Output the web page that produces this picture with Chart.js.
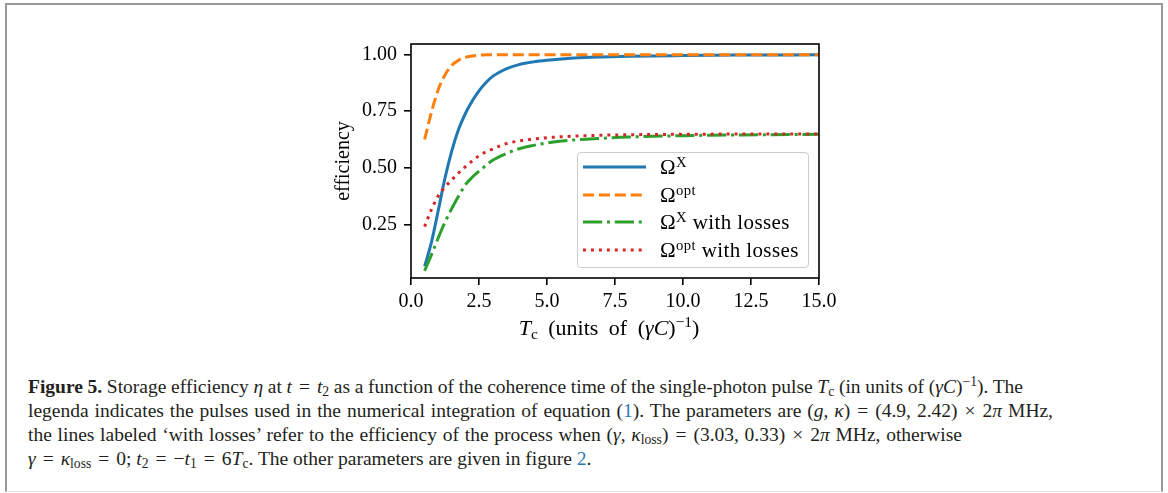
<!DOCTYPE html>
<html>
<head>
<meta charset="utf-8">
<script src="https://cdn.jsdelivr.net/npm/chart.js@4.4.1/dist/chart.umd.min.js"></script>
<style>
    body { margin: 0; width: 1168px; height: 493px; background: #fff; position: relative; overflow: hidden; font-family: "Liberation Serif", serif; color: #000; }
    #frame { position: absolute; left: 5px; top: 3px; width: 1154px; height: 486px; border: 2px solid #999; border-bottom: 1px solid #e4e4e4; }
    #chartBox { position: absolute; left: 330px; top: 30px; width: 540px; height: 320px; }
    #legend { position: absolute; left: 577px; top: 152px; width: 230px; height: 114px; border: 1px solid #ccc; border-radius: 4px; background: rgba(255,255,255,0.8); font-size: 21px; letter-spacing: 0.4px; }
    #legend .row { position: absolute; left: 0; height: 26px; line-height: 26px; white-space: nowrap; }
    #legend svg { position: absolute; left: 5px; top: 8px; }
    #legend .lbl { position: absolute; left: 82px; top: 0; }
    sup { font-size: 0.7em; vertical-align: 0.5em; line-height: 0; }
    sub { font-size: 0.7em; vertical-align: -0.25em; line-height: 0; }
    #xtitle { position: absolute; left: 409px; width: 400px; top: 315px; text-align: center; font-size: 22px; word-spacing: 5px; white-space: nowrap; }
    #caption { position: absolute; left: 28px; top: 375px; font-size: 19.5px; line-height: 24px; color: #231f20; }
    #caption div { white-space: nowrap; width: max-content; }
    #caption a { color: #2a7ab8; text-decoration: none; }
    #caption .op { display: inline-block; margin: 0 7px; }
</style>
</head>
<body>
<div id="frame"></div>
<div id="chartBox"><canvas id="effChart" width="540" height="320"></canvas></div>
<div id="legend"></div>
<div id="xtitle"><i>T</i><sub>c</sub> (units of (<i>γC</i>)<sup>−1</sup>)</div>
<div id="caption">
    <div><b>Figure 5.</b> Storage efficiency <i>η</i> at <i>t</i><span class="op">=</span><i>t</i><sub>2</sub> as a function of the coherence time of the single-photon pulse <i>T</i><sub>c</sub> (in units of (<i>γC</i>)<sup>−1</sup>). The</div>
    <div>legenda indicates the pulses used in the numerical integration of equation (<a>1</a>). The parameters are (<i>g</i>, <i>κ</i>)<span class="op">=</span>(4.9, 2.42)<span class="op">×</span>2<i>π</i> MHz,</div>
    <div>the lines labeled ‘with losses’ refer to the efficiency of the process when (<i>γ</i>, <i>κ</i><sub>loss</sub>)<span class="op">=</span>(3.03, 0.33)<span class="op">×</span>2<i>π</i> MHz, otherwise</div>
    <div><i>γ</i><span class="op">=</span><i>κ</i><sub>loss</sub><span class="op">=</span>0; <i>t</i><sub>2</sub><span class="op">=</span>−<i>t</i><sub>1</sub><span class="op">=</span>6<i>T</i><sub>c</sub>. The other parameters are given in figure <a>2</a>.</div>
</div>
<script>
// coherence time Tc (units of (gamma C)^-1)
const Tc = [0.5, 0.75, 1.0, 1.25, 1.5, 1.75, 2.0, 2.25, 2.5, 2.75, 3.0, 3.25, 3.5, 4.0, 4.5, 5.0, 6.0, 7.0, 8.0, 10.0, 12.0, 15.0];

// efficiency
const omegaX       = [0.065, 0.17, 0.31, 0.455, 0.575, 0.67, 0.74, 0.795, 0.84, 0.876, 0.904, 0.922, 0.937, 0.957, 0.968, 0.975, 0.985, 0.99, 0.993, 0.996, 0.998, 0.999];
const omegaOpt     = [0.625, 0.745, 0.845, 0.91, 0.953, 0.975, 0.988, 0.994, 0.998, 0.999, 1.0, 1.0, 1.0, 1.0, 1.0, 1.0, 1.0, 1.0, 1.0, 1.0, 1.0, 1.0];
const omegaXLoss   = [0.045, 0.115, 0.19, 0.26, 0.32, 0.375, 0.425, 0.458, 0.485, 0.51, 0.533, 0.549, 0.563, 0.585, 0.599, 0.61, 0.623, 0.63, 0.636, 0.642, 0.645, 0.648];
const omegaOptLoss = [0.24, 0.315, 0.375, 0.415, 0.447, 0.477, 0.505, 0.53, 0.553, 0.57, 0.583, 0.596, 0.607, 0.619, 0.627, 0.633, 0.64, 0.644, 0.646, 0.648, 0.649, 0.649];

const xTicks = [0, 2.5, 5, 7.5, 10, 12.5, 15];
const yTicks = [0.25, 0.5, 0.75, 1.0];

// legend text: [base, superscript, rest]
const legendParts = [
    ["Ω", "X", ""],
    ["Ω", "opt", ""],
    ["Ω", "X", " with losses"],
    ["Ω", "opt", " with losses"]
];

const colors = ["#1f77b4", "#ff7f0e", "#2ca02c", "#d62728"];
const dashes = [[], [11.1, 4.8], [19.2, 4.8, 3, 4.8], [3, 4.95]];
const series = [omegaX, omegaOpt, omegaXLoss, omegaOptLoss];

const font = { family: "'Liberation Serif', serif", size: 20 };

// box around the plot area, drawn over the lines like matplotlib spines
const spines = {
    id: "spines",
    afterDatasetsDraw(chart) {
        const { ctx, chartArea: a } = chart;
        ctx.save();
        ctx.strokeStyle = "#000";
        ctx.lineWidth = 1.6;
        ctx.strokeRect(a.left, a.top, a.right - a.left, a.bottom - a.top);
        ctx.restore();
    }
};

const chart = new Chart(document.getElementById("effChart"), {
    type: "line",
    data: {
        datasets: series.map((s, i) => ({
            label: legendParts[i].join(""),
            data: Tc.map((x, j) => ({ x: x, y: s[j] })),
            borderColor: colors[i],
            borderWidth: 3,
            borderDash: dashes[i],
            pointRadius: 0,
            fill: false,
            cubicInterpolationMode: "monotone",
            order: 4 - i
        }))
    },
    options: {
        responsive: false,
        animation: false,
        devicePixelRatio: 1,
        layout: { padding: { top: 14, right: 51, left: 0, bottom: 0 } },
        plugins: { legend: { display: false }, tooltip: { enabled: false } },
        scales: {
            x: {
                type: "linear",
                min: 0,
                max: 15,
                afterBuildTicks: s => { s.ticks = xTicks.map(v => ({ value: v })); },
                afterFit: s => { s.height = 72; s.paddingLeft = 0; s.paddingRight = 0; },
                ticks: { font: font, color: "#000", padding: 5, maxRotation: 0, callback: v => v.toFixed(1) },
                grid: { drawOnChartArea: false, drawTicks: true, tickLength: 7, color: "#000", lineWidth: 1.6 },
                border: { display: false }
            },
            y: {
                min: 0.013,
                max: 1.047,
                afterBuildTicks: s => { s.ticks = yTicks.map(v => ({ value: v })); },
                afterFit: s => { s.width = 81; s.paddingTop = 0; s.paddingBottom = 0; },
                ticks: { font: font, color: "#000", padding: 7, callback: v => v.toFixed(2) },
                grid: { drawOnChartArea: false, drawTicks: true, tickLength: 7, color: "#000", lineWidth: 1.6 },
                border: { display: false },
                title: { display: true, text: "efficiency", font: font, color: "#000", padding: { top: 2, bottom: 0 } }
            }
        }
    },
    plugins: [spines]
});

// legend with superscripts, built from the datasets
const legend = document.getElementById("legend");
chart.data.datasets.forEach((ds, i) => {
    const row = document.createElement("div");
    row.className = "row";
    row.style.top = (1 + i * 27.5) + "px";
    const p = legendParts[i];
    row.innerHTML =
        '<svg width="64" height="10"><line x1="0" y1="5" x2="63" y2="5" stroke="' + ds.borderColor +
        '" stroke-width="3" stroke-dasharray="' + (ds.borderDash.length ? ds.borderDash.join(",") : "none") + '"/></svg>' +
        '<span class="lbl">' + p[0] + '<sup>' + p[1] + '</sup>' + p[2] + '</span>';
    legend.appendChild(row);
});

// stretch the full caption lines to the widths they have in the journal layout
const captionEnds = [1023, 1053, 962];
document.querySelectorAll("#caption div").forEach((d, i) => {
    if (i >= captionEnds.length) return;
    const w = d.getBoundingClientRect().width;
    const gaps = d.textContent.trim().split(/\s+/).length - 1;
    d.style.wordSpacing = ((captionEnds[i] - 28 - w) / gaps) + "px";
});
</script>
</body>
</html>
